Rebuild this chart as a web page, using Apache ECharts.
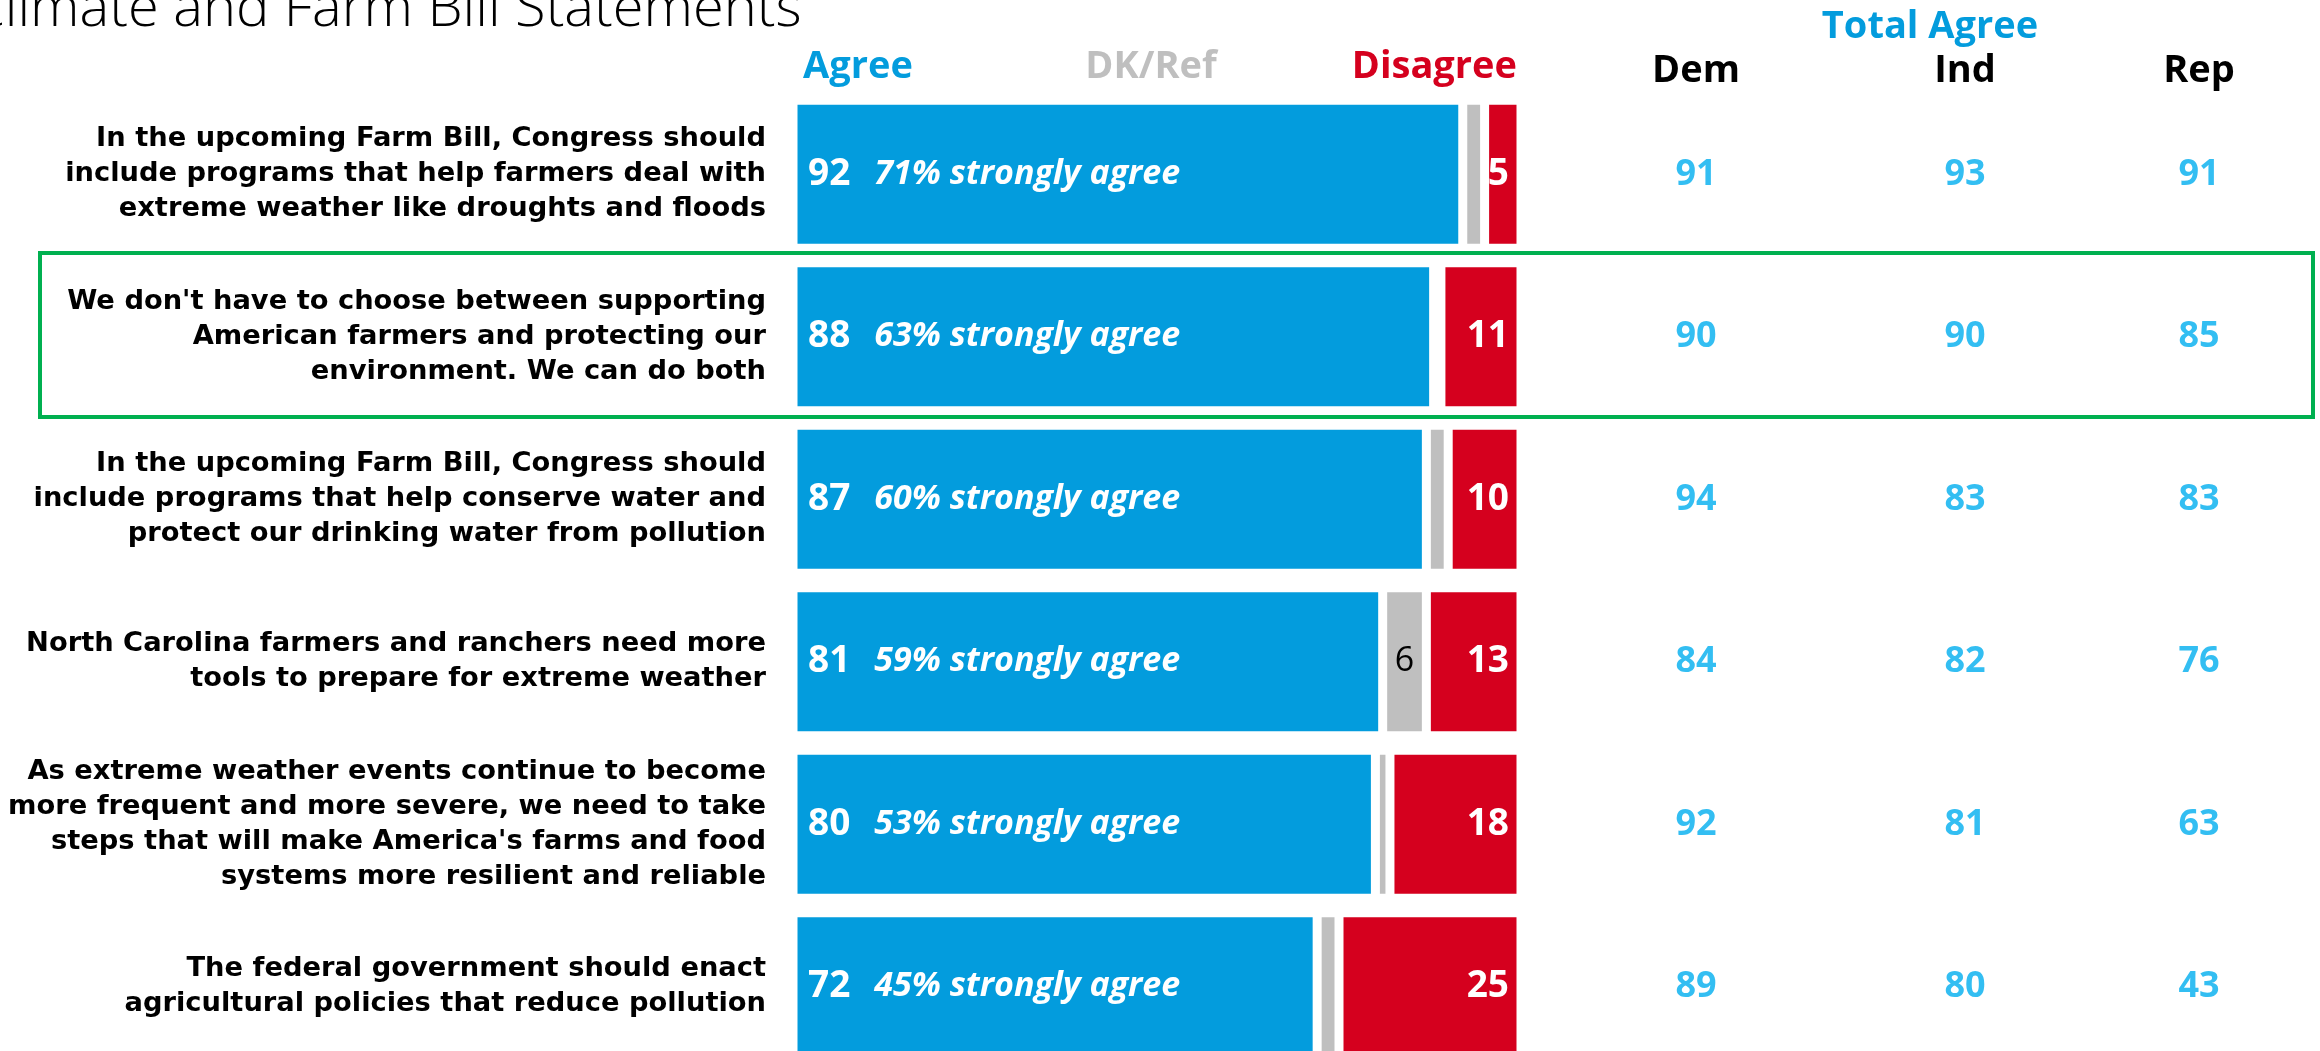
<!DOCTYPE html>
<html>
<head>
<meta charset="utf-8">
<script src="https://cdn.jsdelivr.net/npm/echarts@6/dist/echarts.min.js"></script>
<style>
html,body{margin:0;padding:0;background:#fff;}
#chart{width:2320px;height:1051px;}
</style>
</head>
<body>
<div id="chart"></div>
<script>
var statements = [
  "In the upcoming Farm Bill, Congress should\ninclude programs that help farmers deal with\nextreme weather like droughts and floods",
  "We don't have to choose between supporting\nAmerican farmers and protecting our\nenvironment. We can do both",
  "In the upcoming Farm Bill, Congress should\ninclude programs that help conserve water and\nprotect our drinking water from pollution",
  "North Carolina farmers and ranchers need more\ntools to prepare for extreme weather",
  "As extreme weather events continue to become\nmore frequent and more severe, we need to take\nsteps that will make America's farms and food\nsystems more resilient and reliable",
  "The federal government should enact\nagricultural policies that reduce pollution"
];
var agree = [92, 88, 87, 81, 80, 72];
var dkRef = [3, 1, 3, 6, 2, 3];
var disagree = [5, 11, 10, 13, 18, 25];
var stronglyAgree = [71, 63, 60, 59, 53, 45];
var partyNames = ["Dem", "Ind", "Rep"];
var demAgree = [91, 90, 94, 84, 92, 89];
var indAgree = [93, 90, 83, 82, 81, 80];
var repAgree = [91, 85, 83, 76, 63, 43];

var BLUE = '#039CDD', RED = '#D5001E', GRAY = '#BFBFBF', CYAN = '#00AEEF', GREEN = '#00B050';
var FONT = "'Open Sans', 'Noto Sans', sans-serif";
var LABEL_FONT = "'DejaVu Sans', 'Open Sans', sans-serif";

var chart = echarts.init(document.getElementById('chart'), null, {renderer: 'canvas'});

var gridTop = 93, gridHeight = 975;
var grids = [{left: 793, width: 728, top: gridTop, height: gridHeight, outerBoundsMode: 'none', containLabel: false}];
var xAxes = [{type: 'value', min: 0, max: 100, show: false, gridIndex: 0}];
var yAxes = [{
  type: 'category', data: statements, inverse: true, gridIndex: 0,
  axisLine: {show: false}, axisTick: {show: false},
  axisLabel: {
    margin: 27, align: 'right', color: '#000', fontFamily: LABEL_FONT,
    fontWeight: 'bold', fontSize: 27.3, lineHeight: 35
  }
}];

var partyCenters = [1696, 1965, 2199];
var partyData = [demAgree, indAgree, repAgree];
partyNames.forEach(function (name, k) {
  grids.push({left: partyCenters[k] - 100, width: 200, top: gridTop, height: gridHeight, outerBoundsMode: 'none', containLabel: false});
  xAxes.push({
    type: 'category', data: [name], position: 'top', gridIndex: k + 1,
    axisLine: {show: false}, axisTick: {show: false}, splitLine: {show: false},
    axisLabel: {margin: 3, color: '#000', fontFamily: FONT, fontWeight: 'bold', fontSize: 38}
  });
  yAxes.push({
    type: 'category', data: statements, inverse: true, gridIndex: k + 1, show: false
  });
});

var series = [
  {
    name: 'Agree', type: 'bar', stack: 'all', data: agree, barWidth: 148,
    itemStyle: {color: BLUE, borderColor: '#fff', borderWidth: 4.5},
    label: {
      show: true, position: 'insideLeft', distance: 15,
      formatter: function (p) {
        return '{n|' + p.value + '}{s|' + stronglyAgree[p.dataIndex] + '% strongly agree}';
      },
      rich: {
        n: {color: '#fff', fontFamily: FONT, fontWeight: 'bold', fontSize: 37},
        s: {color: '#fff', fontFamily: FONT, fontWeight: 'bold', fontStyle: 'italic', fontSize: 34, padding: [0, 0, 0, 24]}
      }
    }
  },
  {
    name: 'DK/Ref', type: 'bar', stack: 'all', data: dkRef,
    itemStyle: {color: GRAY, borderColor: '#fff', borderWidth: 4.5},
    label: {
      show: true, position: 'inside', color: '#000', fontFamily: FONT, fontSize: 34,
      formatter: function (p) { return p.value >= 5 ? String(p.value) : ''; }
    }
  },
  {
    name: 'Disagree', type: 'bar', stack: 'all', data: disagree,
    itemStyle: {color: RED, borderColor: '#fff', borderWidth: 4.5},
    label: {
      show: true, position: 'insideRight', distance: 12, color: '#fff',
      fontFamily: FONT, fontWeight: 'bold', fontSize: 37
    }
  }
];
partyData.forEach(function (vals, k) {
  series.push({
    type: 'scatter', xAxisIndex: k + 1, yAxisIndex: k + 1,
    symbol: 'circle', symbolSize: 2, itemStyle: {color: 'rgba(255,255,255,0)'},
    data: vals.map(function (v, i) { return [0, i, v]; }),
    label: {
      show: true, position: 'inside', color: CYAN, fontFamily: FONT, fontWeight: 'bold', fontSize: 36,
      formatter: function (p) { return String(p.value[2]); }
    }
  });
});

var headerStyle = {fontFamily: FONT, fontWeight: 'bold', fontSize: 38, textVerticalAlign: 'middle'};
chart.setOption({
  backgroundColor: '#fff',
  animation: false,
  grid: grids,
  xAxis: xAxes,
  yAxis: yAxes,
  series: series,
  graphic: [
    {type: 'text', left: -30, top: -18, style: {text: 'Climate and Farm Bill Statements', fontFamily: FONT, fontWeight: 300, fontSize: 56, fill: '#000'}},
    {type: 'text', x: 803, y: 67, style: Object.assign({text: 'Agree', fill: BLUE, textAlign: 'left'}, headerStyle)},
    {type: 'text', x: 1151, y: 67, style: Object.assign({text: 'DK/Ref', fill: GRAY, textAlign: 'center'}, headerStyle)},
    {type: 'text', x: 1517, y: 67, style: Object.assign({text: 'Disagree', fill: RED, textAlign: 'right'}, headerStyle)},
    {type: 'text', x: 1930, y: 27, style: Object.assign({text: 'Total Agree', fill: BLUE, textAlign: 'center'}, headerStyle)},
    {type: 'rect', shape: {x: 40, y: 253, width: 2273, height: 164}, style: {fill: 'none', stroke: GREEN, lineWidth: 4}, z: 10}
  ]
});
</script>
</body>
</html>
